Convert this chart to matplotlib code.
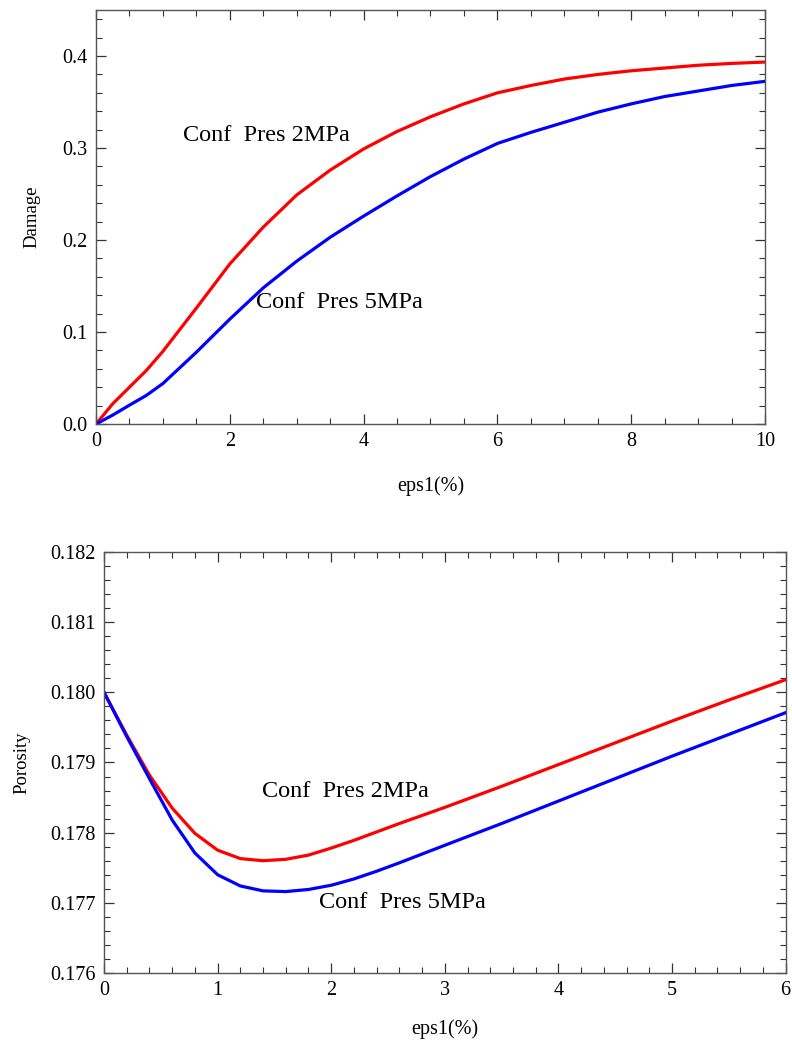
import numpy as np
import matplotlib
matplotlib.use('Agg')
import matplotlib.pyplot as plt
from matplotlib.ticker import MultipleLocator

plt.rcParams['font.family'] = ['Liberation Serif', 'DejaVu Serif']

# damage vs axial strain
eps_dmg = [0, 0.25, 0.5, 0.75, 1.0, 1.5, 2.0, 2.5, 3.0, 3.5, 4.0, 4.5, 5.0, 5.5, 6.0, 6.5, 7.0,
           7.5, 8.0, 8.5, 9.0, 9.5, 10.0]
dmg_2mpa = [0, 0.022, 0.040, 0.058, 0.079, 0.126, 0.174, 0.214, 0.249, 0.276, 0.299, 0.318, 0.334,
            0.348, 0.360, 0.368, 0.375, 0.380, 0.384, 0.387, 0.390, 0.392, 0.3935]
dmg_5mpa = [0, 0.0097, 0.0205, 0.031, 0.044, 0.078, 0.114, 0.148, 0.177, 0.203, 0.226, 0.248, 0.269,
            0.288, 0.305, 0.317, 0.328, 0.339, 0.348, 0.356, 0.362, 0.368, 0.3725]

# porosity vs axial strain
eps_por = [0, 0.2, 0.4, 0.6, 0.8, 1.0, 1.2, 1.4, 1.6, 1.8, 2.0, 2.2, 2.4, 2.6, 3.0, 3.5, 4.0, 4.5,
           5.0, 5.5, 6.0]
por_2mpa = [0.1800, 0.17939, 0.17882, 0.17835, 0.17799, 0.17775, 0.17763, 0.17760, 0.17762, 0.17768,
            0.17778, 0.17789, 0.17801, 0.17813, 0.17836, 0.17866, 0.17897, 0.17928, 0.17959, 0.17989,
            0.18018]
por_5mpa = [0.1800, 0.17937, 0.17877, 0.17818, 0.17771, 0.17740, 0.17724, 0.17717, 0.17716, 0.17719,
            0.17725, 0.17734, 0.17745, 0.17757, 0.17782, 0.17813, 0.17845, 0.17877, 0.17909, 0.17940,
            0.17971]

labels = ['Conf  Pres 2MPa', 'Conf  Pres 5MPa']

fig = plt.figure(figsize=(7.92, 10.48), dpi=100)
ax1 = fig.add_axes([0.1212, 0.5954, 0.8447, 0.395])
ax2 = fig.add_axes([0.1313, 0.0716, 0.8607, 0.4017])


def style_axes(ax):
    for sp in ax.spines.values():
        sp.set_color('#555555')
        sp.set_linewidth(1.0)
    ax.tick_params(which='both', direction='in', top=True, right=True, labelsize=14.5,
                   color='#333333', pad=6)
    ax.tick_params(which='major', length=7, width=0.9)
    ax.tick_params(which='minor', length=4, width=0.8)


ax1.plot(eps_dmg, dmg_2mpa, color='#ff0000', lw=2.3)
ax1.plot(eps_dmg, dmg_5mpa, color='#0000ff', lw=2.3)
ax1.set_xlim(0, 10)
ax1.set_ylim(0, 0.45)
ax1.xaxis.set_major_locator(MultipleLocator(2))
ax1.xaxis.set_minor_locator(MultipleLocator(0.5))
ax1.yaxis.set_major_locator(MultipleLocator(0.1))
ax1.yaxis.set_minor_locator(MultipleLocator(0.02))
ax1.set_yticks([0, 0.1, 0.2, 0.3, 0.4], ['0.0', '0.1', '0.2', '0.3', '0.4'])
style_axes(ax1)
ax1.set_xlabel('eps1(%)', fontsize=14.5, labelpad=18)
ax1.set_ylabel('Damage', fontsize=13.5, labelpad=16)
ax1.text(1.30, 0.314, labels[0], fontsize=17.5, va='center', ha='left')
ax1.text(2.39, 0.132, labels[1], fontsize=17.5, va='center', ha='left')

ax2.plot(eps_por, por_2mpa, color='#ff0000', lw=2.3)
ax2.plot(eps_por, por_5mpa, color='#0000ff', lw=2.3)
ax2.set_xlim(0, 6)
ax2.set_ylim(0.176, 0.182)
ax2.xaxis.set_major_locator(MultipleLocator(1))
ax2.xaxis.set_minor_locator(MultipleLocator(0.2))
ax2.yaxis.set_major_locator(MultipleLocator(0.001))
ax2.yaxis.set_minor_locator(MultipleLocator(0.0002))
ax2.yaxis.set_major_formatter(plt.FormatStrFormatter('%.3f'))
style_axes(ax2)
ax2.set_xlabel('eps1(%)', fontsize=14.5, labelpad=14)
ax2.set_ylabel('Porosity', fontsize=13.5, labelpad=14)
ax2.text(1.39, 0.17858, labels[0], fontsize=17.5, va='center', ha='left')
ax2.text(1.89, 0.17700, labels[1], fontsize=17.5, va='center', ha='left')

fig.savefig('out.png', dpi=100)
